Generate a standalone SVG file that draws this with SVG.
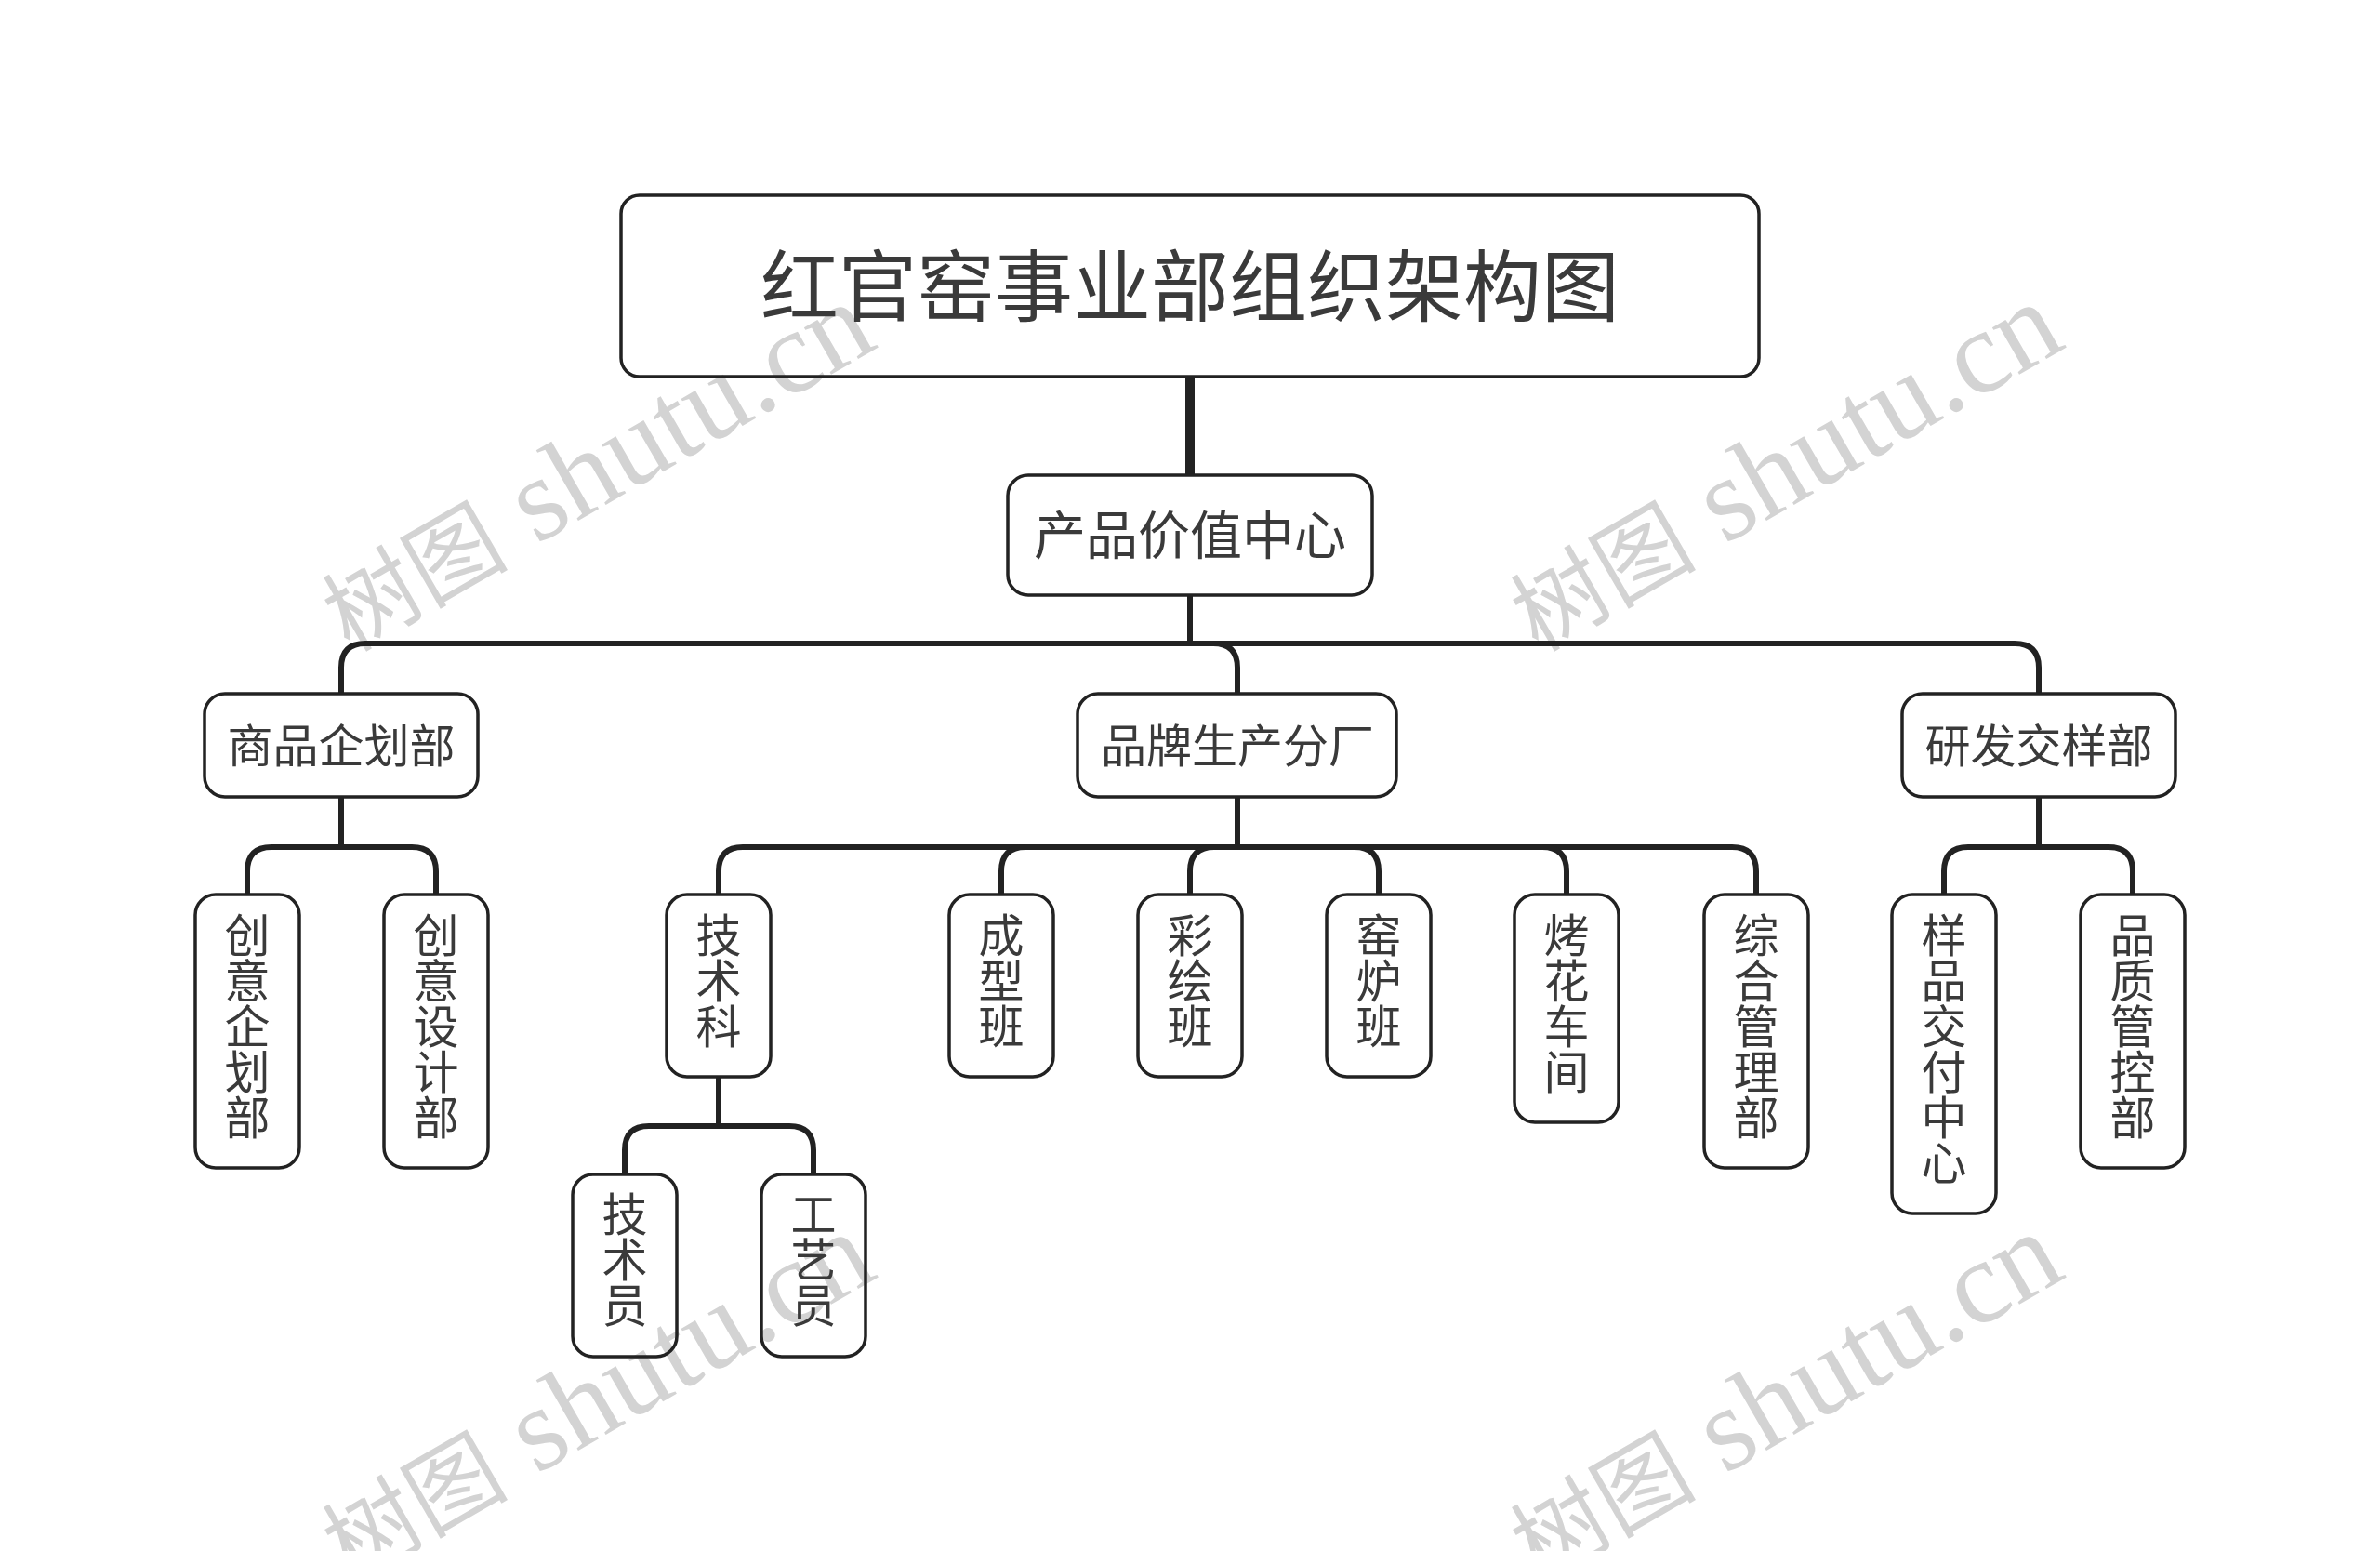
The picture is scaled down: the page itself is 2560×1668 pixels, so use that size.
<svg xmlns="http://www.w3.org/2000/svg" width="2560" height="1668" viewBox="0 0 2560 1668">
<style>
.n{fill:none;stroke:#222;stroke-width:3.5}
.t{font-family:"Noto Sans CJK SC","Noto Sans",sans-serif;font-weight:400;fill:#3a3a3a;text-anchor:middle}
.s{font-size:49px}
.c{fill:none;stroke:#222;stroke-width:6}
.w{font-family:"Liberation Serif","Noto Sans CJK SC",serif;font-size:127px;fill:#d3d3d3}
.wc{font-size:100px;font-weight:400}
</style>
<rect width="2560" height="1668" fill="#fff"/>
<g id="watermarks">
<text class="w" transform="translate(376 702) rotate(-30)"><tspan class="wc">树图</tspan><tspan dx="32">shutu.cn</tspan></text>
<text class="w" transform="translate(1654 702) rotate(-30)"><tspan class="wc">树图</tspan><tspan dx="32">shutu.cn</tspan></text>
<text class="w" transform="translate(376 1702) rotate(-30)"><tspan class="wc">树图</tspan><tspan dx="32">shutu.cn</tspan></text>
<text class="w" transform="translate(1654 1702) rotate(-30)"><tspan class="wc">树图</tspan><tspan dx="32">shutu.cn</tspan></text>
</g>
<g id="connectors">
<path class="c" style="stroke-width:10" d="M1280 405V510"/>
<path class="c" d="M1280 640V692"/>
<path class="c" d="M367 745V718Q367 692 393 692H2167Q2193 692 2193 718V745"/>
<path class="c" d="M1305 692Q1331 692 1331 718V745"/>
<path class="c" d="M367 857V911"/>
<path class="c" d="M266 962V937Q266 911 292 911H443Q469 911 469 937V962"/>
<path class="c" d="M1331 857V911"/>
<path class="c" d="M773 962V937Q773 911 799 911H1863Q1889 911 1889 937V962"/>
<path class="c" d="M1077 962V937Q1077 911 1103 911M1280 962V937Q1280 911 1306 911M1457 911Q1483 911 1483 937V962M1659 911Q1685 911 1685 937V962"/>
<path class="c" d="M2193 857V911"/>
<path class="c" d="M2091 962V937Q2091 911 2117 911H2268Q2294 911 2294 937V962"/>
<path class="c" d="M773 1158V1211"/>
<path class="c" d="M672 1262V1237Q672 1211 698 1211H849Q875 1211 875 1237V1262"/>
</g>
<g id="root"><rect class="n" x="668" y="210" width="1224" height="195" rx="20"/><text class="t" x="1280" y="339" font-size="84">红官窑事业部组织架构图</text></g>
<g id="n-center"><rect class="n" x="1084" y="511" width="392" height="129" rx="22"/><text class="t" x="1280" y="596" font-size="56">产品价值中心</text></g>
<g id="n-shangpin"><rect class="n" x="220" y="746" width="294" height="111" rx="22"/><text class="t s" x="367" y="820">商品企划部</text></g>
<g id="n-pinpai"><rect class="n" x="1159" y="746" width="343" height="111" rx="22"/><text class="t s" x="1331" y="820">品牌生产分厂</text></g>
<g id="n-yanfa"><rect class="n" x="2046" y="746" width="294" height="111" rx="22"/><text class="t s" x="2193" y="820">研发交样部</text></g>
<g id="n-chuangyi-qihua"><rect class="n" x="210" y="962" width="112" height="294" rx="22"/><text class="t s"><tspan x="266" y="1024">创</tspan><tspan x="266" dy="49">意</tspan><tspan x="266" dy="49">企</tspan><tspan x="266" dy="49">划</tspan><tspan x="266" dy="49">部</tspan></text></g>
<g id="n-chuangyi-sheji"><rect class="n" x="413" y="962" width="112" height="294" rx="22"/><text class="t s"><tspan x="469" y="1024">创</tspan><tspan x="469" dy="49">意</tspan><tspan x="469" dy="49">设</tspan><tspan x="469" dy="49">计</tspan><tspan x="469" dy="49">部</tspan></text></g>
<g id="n-jishuke"><rect class="n" x="717" y="962" width="112" height="196" rx="22"/><text class="t s"><tspan x="773" y="1024">技</tspan><tspan x="773" dy="49">术</tspan><tspan x="773" dy="49">科</tspan></text></g>
<g id="n-chengxing"><rect class="n" x="1021" y="962" width="112" height="196" rx="22"/><text class="t s"><tspan x="1077" y="1024">成</tspan><tspan x="1077" dy="49">型</tspan><tspan x="1077" dy="49">班</tspan></text></g>
<g id="n-caihui"><rect class="n" x="1224" y="962" width="112" height="196" rx="22"/><text class="t s"><tspan x="1280" y="1024">彩</tspan><tspan x="1280" dy="49">绘</tspan><tspan x="1280" dy="49">班</tspan></text></g>
<g id="n-yaolu"><rect class="n" x="1427" y="962" width="112" height="196" rx="22"/><text class="t s"><tspan x="1483" y="1024">窑</tspan><tspan x="1483" dy="49">炉</tspan><tspan x="1483" dy="49">班</tspan></text></g>
<g id="n-kaohua"><rect class="n" x="1629" y="962" width="112" height="245" rx="22"/><text class="t s"><tspan x="1685" y="1024">烤</tspan><tspan x="1685" dy="49">花</tspan><tspan x="1685" dy="49">车</tspan><tspan x="1685" dy="49">间</tspan></text></g>
<g id="n-zonghe"><rect class="n" x="1833" y="962" width="112" height="294" rx="22"/><text class="t s"><tspan x="1889" y="1024">综</tspan><tspan x="1889" dy="49">合</tspan><tspan x="1889" dy="49">管</tspan><tspan x="1889" dy="49">理</tspan><tspan x="1889" dy="49">部</tspan></text></g>
<g id="n-yangpin"><rect class="n" x="2035" y="962" width="112" height="343" rx="22"/><text class="t s"><tspan x="2091" y="1024">样</tspan><tspan x="2091" dy="49">品</tspan><tspan x="2091" dy="49">交</tspan><tspan x="2091" dy="49">付</tspan><tspan x="2091" dy="49">中</tspan><tspan x="2091" dy="49">心</tspan></text></g>
<g id="n-pinzhi"><rect class="n" x="2238" y="962" width="112" height="294" rx="22"/><text class="t s"><tspan x="2294" y="1024">品</tspan><tspan x="2294" dy="49">质</tspan><tspan x="2294" dy="49">管</tspan><tspan x="2294" dy="49">控</tspan><tspan x="2294" dy="49">部</tspan></text></g>
<g id="n-jishuyuan"><rect class="n" x="616" y="1263" width="112" height="196" rx="22"/><text class="t s"><tspan x="672" y="1324">技</tspan><tspan x="672" dy="49">术</tspan><tspan x="672" dy="49">员</tspan></text></g>
<g id="n-gongyiyuan"><rect class="n" x="819" y="1263" width="112" height="196" rx="22"/><text class="t s"><tspan x="875" y="1324">工</tspan><tspan x="875" dy="49">艺</tspan><tspan x="875" dy="49">员</tspan></text></g>
</svg>
